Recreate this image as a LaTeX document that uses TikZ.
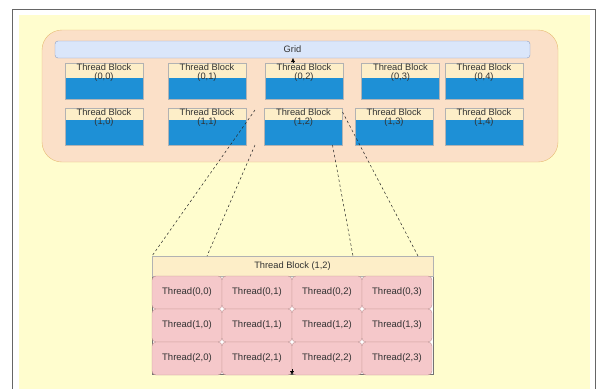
\documentclass[tikz,border=0pt]{standalone}
\usepackage{fontspec}
\setmainfont{Liberation Sans}
\usepackage{tikz}
\usetikzlibrary{arrows.meta, positioning}

\definecolor{bgyellow}{RGB}{255,253,206}
\definecolor{gridfill}{RGB}{251,224,200}
\definecolor{griddraw}{RGB}{232,188,116}
\definecolor{barfill}{RGB}{218,230,250}
\definecolor{bardraw}{RGB}{140,158,196}
\definecolor{tbcream}{RGB}{253,238,200}
\definecolor{tbblue}{RGB}{30,144,214}
\definecolor{cellfill}{RGB}{245,200,202}
\definecolor{celldraw}{RGB}{192,146,146}
\definecolor{txtgray}{RGB}{50,50,50}

\begin{document}
\begin{tikzpicture}[
  x=1pt, y=-1pt,
  every node/.style={font=\fontsize{9.3}{9.5}\selectfont, text=txtgray, outer sep=0pt},
  gridbox/.style={draw=griddraw, fill=gridfill, rounded corners=20pt, minimum width=516pt, minimum height=132pt},
  gridbar/.style={draw=bardraw, fill=barfill, rounded corners=3pt, minimum width=475pt, minimum height=17pt, inner sep=0pt},
  tblock/.style={draw=black!30, fill=tbblue, minimum width=78pt, minimum height=#1, inner sep=0pt},
  tbtext/.style={align=center, inner sep=0.5pt},
  exblock/.style={draw=black!55, fill=white, minimum width=281pt, minimum height=118pt},
  exhead/.style={draw=black!30, fill=tbcream, minimum width=281pt, minimum height=20pt, inner sep=0pt},
  cell/.style={draw=celldraw, fill=cellfill, rounded corners=4pt, minimum width=70pt, minimum height=33pt, inner sep=0pt,
    font=\fontsize{9.5}{10}\selectfont},
  zoomline/.style={dash pattern=on 2.5pt off 2.5pt, black!85, line width=0.5pt},
  tinyarrow/.style={-{Latex[length=4pt, width=4pt]}, line width=0.4pt}
]
\useasboundingbox (0,0) rectangle (598,389);
\fill[bgyellow] (19,15) rectangle (590,389);
\draw[black!60, line width=0.8pt] (12,389) |- (595,9) -- (595,389);

\node[gridbox] (gridarea) at (300,96) {};
\node[gridbar] (grid) at (292.5,49.5) {Grid};

\foreach \r/\c/\xc in {0/0/104, 0/1/207, 0/2/304, 0/3/400.5, 0/4/484,
                       1/0/104, 1/1/207, 1/2/303.5, 1/3/394, 1/4/484} {
  \pgfmathsetmacro{\yc}{81+45.5*\r}
  \pgfmathsetmacro{\hh}{15-3*\r}
  \node[tblock={36pt+\r pt},
        path picture={\fill[tbcream] (path picture bounding box.north west)
          rectangle ([yshift=-\hh pt]path picture bounding box.north east);}]
    (b\r\c) at (\xc,\yc) {};
  \node[tbtext, below=0pt of b\r\c.north] (t\r\c) {Thread Block\\(\r,\c)};
}

\coordinate (gtip) at (293,58);
\draw[tinyarrow] (b02.north -| gtip) -- (gtip);

\node[exblock] (ex) at (292.5,315) {};
\node[exhead, below=0pt of ex.north] (exh) {Thread Block (1,2)};

\foreach \r in {0,1,2} {
  \foreach \c in {0,1,2,3} {
    \node[cell] (c\r\c) at (187+70*\c, 292.5+33*\r) {Thread(\r,\c)};
  }
}

\draw[tinyarrow] ([yshift=6pt]c21.south east) -- (c21.south east);

\coordinate (zl1) at (255,110);
\coordinate (zl2) at (255,145);
\draw[zoomline] (zl1) -- (ex.north west);
\draw[zoomline] (zl2) -- ([xshift=55pt]ex.north west);
\draw[zoomline] ([xshift=-10pt]b12.south east) -- ([xshift=-80pt]ex.north east);
\draw[zoomline] ([yshift=-4pt]b12.north east) -- ([xshift=-15pt]ex.north east);
\end{tikzpicture}
\end{document}
